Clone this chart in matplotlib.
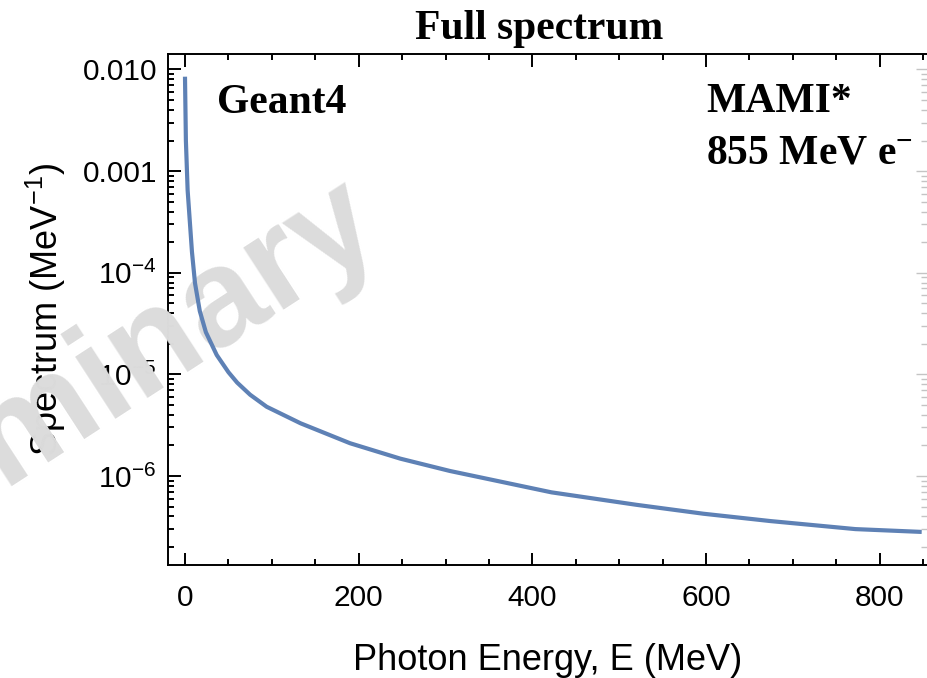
import matplotlib
matplotlib.use("Agg")
import matplotlib.pyplot as plt
from matplotlib.ticker import LogLocator, NullFormatter, MultipleLocator

# photon energy (MeV) and spectrum (1/MeV)
energy = [0, 1, 3, 6, 8, 11.5, 17, 24, 36.5, 50, 60, 75, 94, 133, 190, 248,
          305, 422, 520, 597, 674, 772, 846]
spectrum = [8.1e-3, 2.0e-3, 6.5e-4, 2.8e-4, 1.6e-4, 7.9e-5, 4.2e-5, 2.6e-5,
            1.55e-5, 1.05e-5, 8.3e-6, 6.3e-6, 4.8e-6, 3.3e-6, 2.1e-6, 1.48e-6,
            1.12e-6, 6.9e-7, 5.2e-7, 4.25e-7, 3.6e-7, 3.0e-7, 2.82e-7]

xticks = [0, 200, 400, 600, 800]
yticks = [1e-6, 1e-5, 1e-4, 1e-3, 1e-2]
ylabels = ["$10^{-6}$", "$10^{-5}$", "$10^{-4}$", "0.001", "0.010"]

plt.rcParams['font.family'] = ['Liberation Sans', 'DejaVu Sans']
plt.rcParams['mathtext.default'] = 'regular'

W, H = 928, 678
fig = plt.figure(figsize=(W / 100, H / 100), dpi=100)
ax = fig.add_axes([168 / W, 1 - 565 / H, (927 - 168) / W, (565 - 54) / H])

ax.semilogy(energy, spectrum, color='#5E81B5', lw=3, zorder=4)

ax.set_xlim(-19.6, 854.5)
ax.set_ylim(1.33e-7, 1.42e-2)

ax.set_xticks(xticks)
ax.xaxis.set_minor_locator(MultipleLocator(50))
ax.set_yticks(yticks)
ax.set_yticklabels(ylabels)
ax.yaxis.set_minor_locator(LogLocator(base=10, subs=range(2, 10)))
ax.yaxis.set_minor_formatter(NullFormatter())

for s in ['left', 'bottom', 'top']:
    ax.spines[s].set_linewidth(1.4)
ax.spines['right'].set_visible(False)

ax.tick_params(which='both', direction='in', top=True, right=False,
               labelsize=21.5, width=1.4)
ax.tick_params(which='major', length=9)
ax.tick_params(which='minor', length=4.5)
ax.tick_params(axis='x', pad=14)
ax.tick_params(axis='y', pad=8)

# faint ticks on the right edge
ax2 = ax.twinx()
ax2.set_yscale('log')
ax2.set_ylim(ax.get_ylim())
ax2.set_yticks(yticks)
ax2.yaxis.set_minor_locator(LogLocator(base=10, subs=range(2, 10)))
ax2.tick_params(which='both', direction='in', colors='#c4c4c4',
                labelright=False, width=1.0)
ax2.tick_params(which='major', length=8)
ax2.tick_params(which='minor', length=4)
for s in ax2.spines.values():
    s.set_visible(False)

ax.set_xlabel("Photon Energy, E (MeV)", fontsize=26, labelpad=22)
ax.set_ylabel("Spectrum (MeV$^{-1}$)", fontsize=26, labelpad=10)

serif = ['Liberation Serif', 'DejaVu Serif']
fig.text(539 / W, 1 - 39 / H, "Full spectrum", family=serif,
         fontweight='bold', fontsize=30, ha='center', va='baseline')
fig.text(217 / W, 1 - 113 / H, "Geant4", family=serif, fontweight='bold',
         fontsize=30, va='baseline')
fig.text(706 / W, 1 - 112 / H, "MAMI*", family=serif, fontweight='bold',
         fontsize=30, va='baseline')
fig.text(706 / W, 1 - 163 / H, "855 MeV e$^{-}$", family=serif,
         fontweight='bold', fontsize=30, va='baseline')

# watermark sits over the axis labels but under the curve
ax.text(68 / W, 1 - 444 / H, "Preliminary", transform=fig.transFigure,
        rotation=33, rotation_mode='anchor', ha='center', va='baseline',
        fontsize=100, fontweight='bold', color='#dcdcdc', zorder=3,
        clip_on=False)

fig.savefig("out.png", dpi=100)
